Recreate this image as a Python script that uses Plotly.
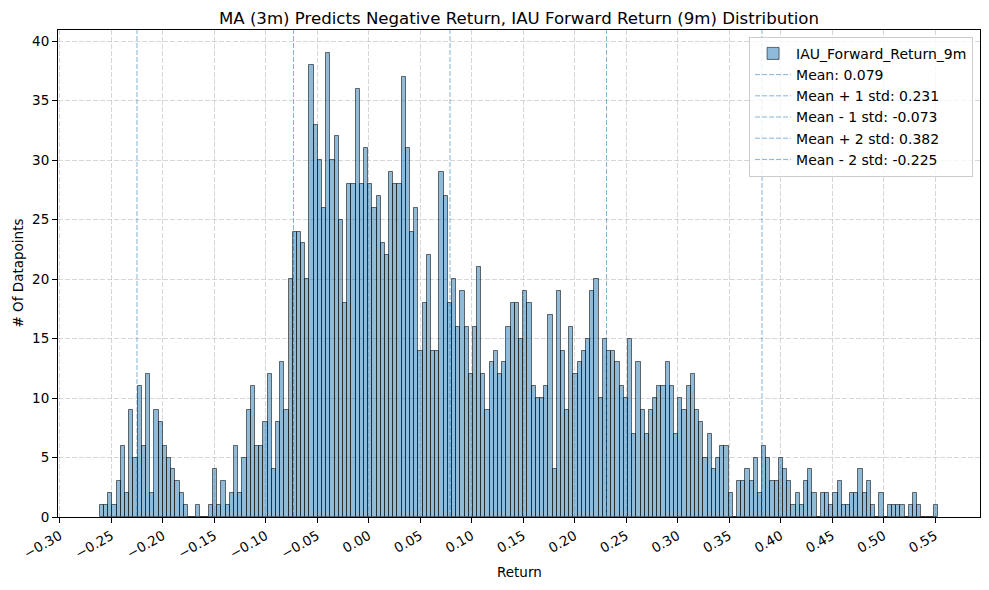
import numpy as np
import plotly.graph_objects as go

# ---- data ----
bin_start = -0.261
bin_end = 0.553
counts = [1,1,2,1,3,6,2,9,5,11,6,12,2,9,8,6,5,4,3,2,1,0,0,1,
          0,0,1,4,1,3,1,2,6,2,5,9,11,6,6,8,12,4,8,13,9,
          20,24,24,23,20,38,33,30,26,39,30,32,25,18,28,28,36,
          28,31,28,26,27,23,22,29,28,28,37,31,24,26,14,18,22,
          14,14,29,27,18,20,16,19,16,12,16,21,12,9,13,14,12,
          13,16,18,18,15,19,18,11,10,10,11,17,4,19,14,9,16,
          12,13,14,15,19,20,10,15,14,14,13,11,10,15,7,13,
          9,7,9,10,11,11,13,11,7,10,9,11,12,9,8,5,7,
          4,5,6,6,2,0,3,3,4,3,5,2,6,5,3,3,5,4,
          3,1,2,1,3,4,2,0,2,2,1,2,3,1,1,2,2,4,
          2,3,1,0,2,0,1,1,1,1,0,1,2,1,0,0,0,1]
stat_names = ["Mean", "Mean + 1 std", "Mean - 1 std", "Mean + 2 std", "Mean - 2 std"]
stat_values = [0.079, 0.231, -0.073, 0.382, -0.225]
x_ticks = [round(-0.30 + 0.05 * i, 2) for i in range(18)]
y_ticks = [0, 5, 10, 15, 20, 25, 30, 35, 40]
series_name = "IAU_Forward_Return_9m"
title = "MA (3m) Predicts Negative Return, IAU Forward Return (9m) Distribution"

n = len(counts)
edges = np.linspace(bin_start, bin_end, n + 1)
centers = (edges[:-1] + edges[1:]) / 2
width = edges[1] - edges[0]

span = bin_end - bin_start
xr = [bin_start - 0.05 * span, bin_end + 0.05 * span]
yr = [0, max(counts) * 1.05]

FONT = "DejaVu Sans"
fig = go.Figure()
fig.add_trace(go.Bar(
    x=centers, y=counts, width=width, name=series_name,
    marker=dict(color="rgba(31,119,180,0.5)",
                line=dict(color="rgba(0,0,0,0.55)", width=1)),
))
for nm, v in zip(stat_names, stat_values):
    fig.add_trace(go.Scatter(
        x=[v, v], y=[0, yr[1] * 1.2], mode="lines",
        name=f"{nm}: {v:.3f}",
        line=dict(color="rgba(31,119,180,0.55)", width=1, dash="5px,2px"),
    ))

def fmt(v):
    s = f"{abs(v):.2f}"
    return ("\u2212" + s) if v < -1e-9 else s

fig.update_layout(
    width=989, height=590,
    margin=dict(l=58, r=9, t=30, b=73),
    paper_bgcolor="white", plot_bgcolor="white",
    font=dict(family=FONT, size=13.5, color="black"),
    bargap=0,
    showlegend=True,
    title=dict(text=title, x=0.5, xref="paper", y=(590 - 18) / 590, yref="container",
               xanchor="center", yanchor="middle", font=dict(size=16.6, family=FONT)),
    legend=dict(x=0.9925, y=0.986, xanchor="right", yanchor="top",
                bgcolor="rgba(255,255,255,0.8)", bordercolor="#cccccc", borderwidth=1,
                font=dict(size=14, family=FONT), tracegroupgap=0, itemwidth=36),
    xaxis=dict(range=xr, tickmode="array", tickvals=x_ticks,
               ticktext=[fmt(v) for v in x_ticks], tickangle=-30,
               ticks="outside", ticklen=5, tickcolor="black",
               showline=True, linecolor="black", linewidth=1, mirror=True,
               showgrid=True, gridcolor="rgba(176,176,176,0.5)", griddash="5px,2px",
               zeroline=False, tickfont=dict(size=13.5)),
    yaxis=dict(range=yr, tickmode="array", tickvals=y_ticks,
               ticks="outside", ticklen=5, tickcolor="black",
               showline=True, linecolor="black", linewidth=1, mirror=True,
               showgrid=True, gridcolor="rgba(176,176,176,0.5)", griddash="5px,2px",
               zeroline=False, tickfont=dict(size=13.5)),
    annotations=[
        dict(text="Return", xref="paper", yref="paper", x=0.5, y=(517 - 572) / 487,
             showarrow=False, xanchor="center", yanchor="middle", font=dict(size=13.5)),
        dict(text="# Of Datapoints", xref="paper", yref="paper", x=(17 - 58) / 922, y=0.5,
             showarrow=False, textangle=-90, xanchor="center", yanchor="middle",
             font=dict(size=13.5)),
    ],
)
fig.write_html("out.html")
